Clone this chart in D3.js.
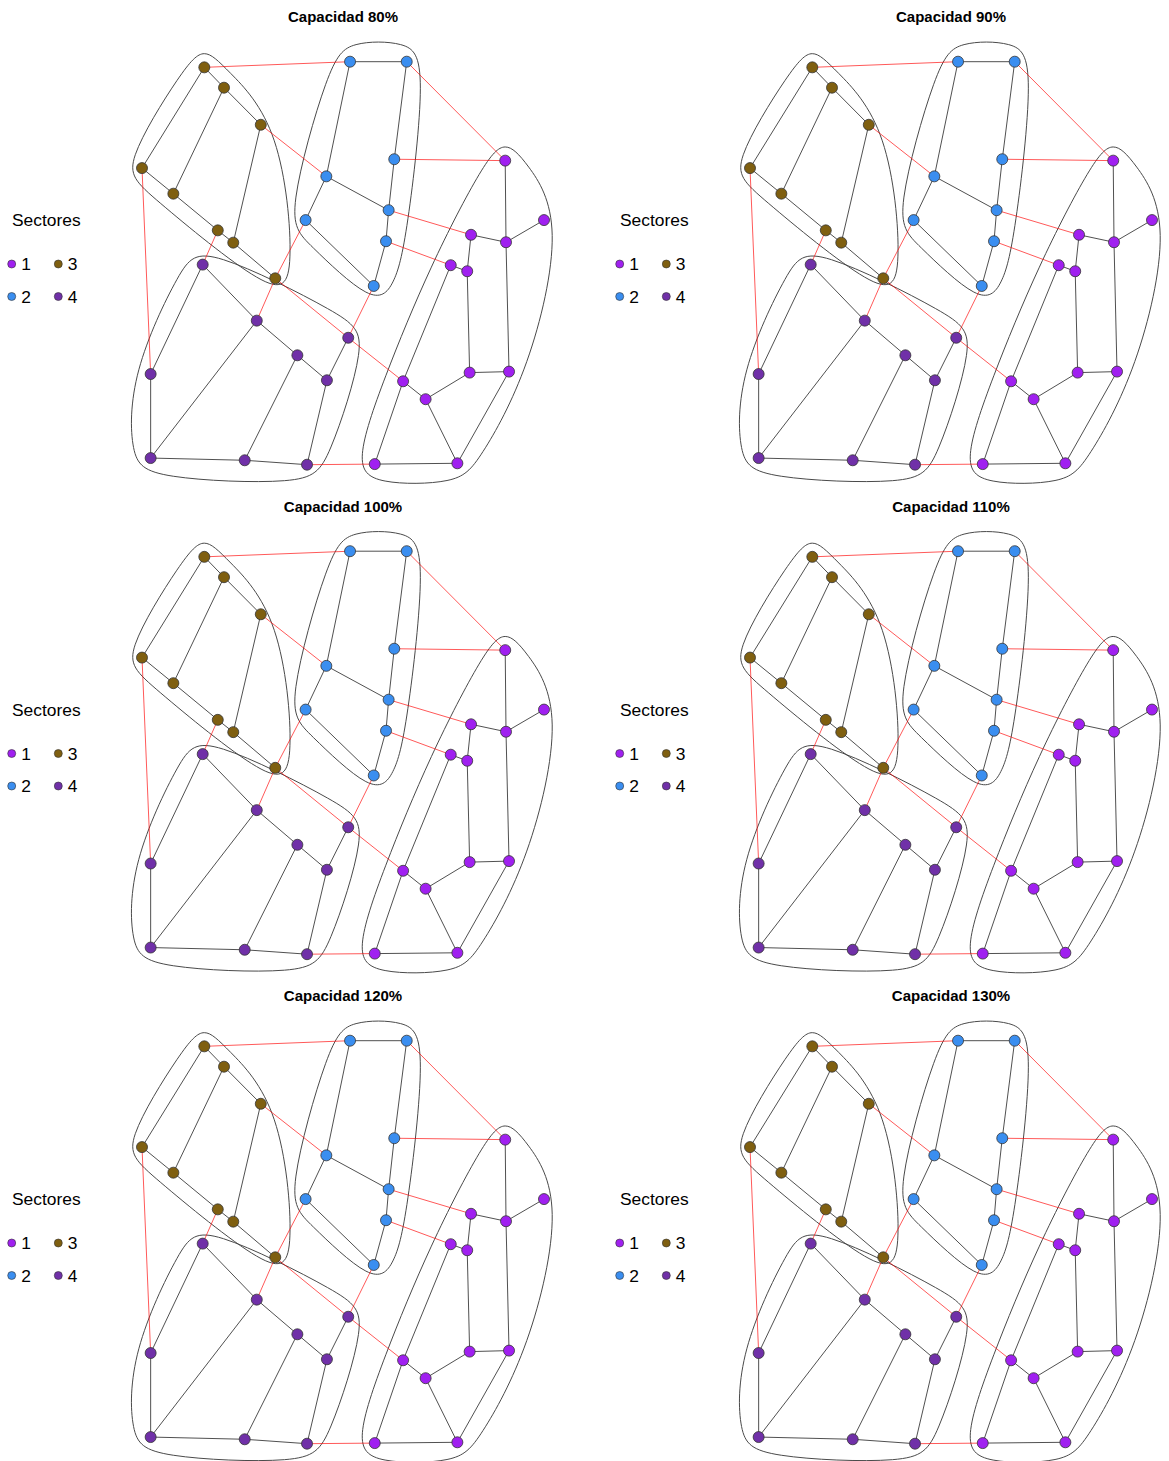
<!DOCTYPE html>
<html>
<head>
<meta charset="utf-8">
<script src="https://cdn.jsdelivr.net/npm/d3@7"></script>
<style>
  body { margin: 0; background: #fff; }
  svg { display: block; font-family: "Liberation Sans", Arial, sans-serif; }
</style>
</head>
<body>
<svg id="chart" width="1169" height="1461"></svg>
<script>
// ---- data ----
const capacities = [80, 90, 100, 110, 120, 130];
const sectorLabels = ['1', '2', '3', '4'];

// node layout (normalised layout units, -1..1) and sector of each node
const nodeNames = ['A','B','C','D','E','F','G','H',
  'I','J','K','L','M','N','O','P',
  'Q','R','S','T','U','V','W','X','Y','Z','AA','AB',
  'a','b','c','d','e','f','g','h','i'];
const nodeX = [-0.690,-0.592,-0.409,-1.000,-0.844,-0.623,-0.546,-0.337,
  0.035,0.317,0.255,-0.083,0.227,-0.186,0.214,0.153,
  0.807,1.000,0.637,0.811,0.536,0.618,0.630,0.826,0.299,0.411,0.158,0.569,
  -0.698,-0.429,0.026,-0.227,-0.080,-0.957,-0.957,-0.489,-0.179];
const nodeY = [0.972,0.871,0.687,0.472,0.345,0.163,0.102,-0.075,
  1.000,1.000,0.516,0.431,0.263,0.214,0.109,-0.113,
  0.509,0.214,0.141,0.104,-0.010,-0.040,-0.543,-0.538,-0.586,-0.675,-0.997,-0.993,
  -0.007,-0.285,-0.370,-0.457,-0.581,-0.550,-0.967,-0.978,-1.000];
const nodeSector = [3,3,3,3,3,3,3,3,
  2,2,2,2,2,2,2,2,
  1,1,1,1,1,1,1,1,1,1,1,1,
  4,4,4,4,4,4,4,4,4];

// edges
const edgeFrom = ['A','B','A','B','D','E','F','G','C',
  'I','I','J','K','L','L','M','O','N',
  'Q','R','S','S','U','U','V','T','W','W','Y','Z','X','Y','AA',
  'a','a','f','g','g','h','h','b','d','e','e',
  'A','C','D','F','b','H','H','c','c','i','J','K','M','O'];
const edgeTo = ['B','C','D','E','E','F','G','H','G',
  'J','L','K','M','M','N','O','P','P',
  'T','T','T','V','V','Y','W','X','X','Z','Z','AB','AB','AA','AB',
  'b','f','g','b','h','i','d','d','e','i','c',
  'I','L','f','a','H','N','c','Y','P','AA','Q','Q','S','U'];

// ---- styles ----
const sectorColor = { 1: '#a020f0', 2: '#3a8ef0', 3: '#7f5f10', 4: '#7030a8' };
const W = 1169, H = 1461;
const colStep = 608, rowStep = 489.5;
const plotLeft = 142, plotRight = 544, plotTop = 61.7, plotBottom = 464.7;
const nodeR = 5.5, hullPad = 20.5;

const svg = d3.select('#chart');
svg.append('rect').attr('width', W).attr('height', H).attr('fill', '#fff');

const nodes = nodeNames.map((n, i) => ({ name: n, x: nodeX[i], y: nodeY[i], sector: nodeSector[i] }));
const byName = new Map(nodes.map(d => [d.name, d]));
const edges = edgeFrom.map((f, i) => ({ source: byName.get(f), target: byName.get(edgeTo[i]) }));

const hullLine = d3.line().curve(d3.curveBasisClosed);

capacities.forEach((cap, k) => {
  const col = k % 2, row = Math.floor(k / 2);
  const ox = col * colStep, oy = row * rowStep;
  const g = svg.append('g').attr('transform', `translate(${ox},${oy})`);

  const x = d3.scaleLinear().domain([-1, 1]).range([plotLeft, plotRight]);
  const y = d3.scaleLinear().domain([-1, 1]).range([plotBottom, plotTop]);

  // title
  g.append('text')
    .attr('x', (plotLeft + plotRight) / 2)
    .attr('y', 22)
    .attr('text-anchor', 'middle')
    .attr('font-size', '15px')
    .attr('font-weight', 'bold')
    .text(`Capacidad ${cap}%`);

  // sector hulls (expanded convex hull, smoothed)
  [1, 2, 3, 4].forEach(s => {
    const pts = [];
    nodes.filter(d => d.sector === s).forEach(d => {
      const px = x(d.x), py = y(d.y);
      pts.push([px - hullPad, py], [px + hullPad, py], [px, py - hullPad], [px, py + hullPad]);
    });
    const hull = d3.polygonHull(pts);
    g.append('path')
      .attr('d', hullLine(hull))
      .attr('fill', 'none')
      .attr('stroke', '#4a4a4a')
      .attr('stroke-width', 1);
  });

  // edges
  g.selectAll('.edge')
    .data(edges)
    .enter()
    .append('line')
    .attr('class', 'edge')
    .attr('x1', d => x(d.source.x))
    .attr('y1', d => y(d.source.y))
    .attr('x2', d => x(d.target.x))
    .attr('y2', d => y(d.target.y))
    .attr('stroke', d => d.source.sector === d.target.sector ? '#3c3c3c' : 'rgba(255,0,0,0.65)')
    .attr('stroke-width', d => d.source.sector === d.target.sector ? 0.9 : 1);

  // nodes
  g.selectAll('.node')
    .data(nodes)
    .enter()
    .append('circle')
    .attr('class', 'node')
    .attr('cx', d => x(d.x))
    .attr('cy', d => y(d.y))
    .attr('r', nodeR)
    .attr('fill', d => sectorColor[d.sector])
    .attr('stroke', '#333')
    .attr('stroke-width', 0.8);

  // legend
  const lg = g.append('g').attr('class', 'legend');
  lg.append('text')
    .attr('x', 46.3)
    .attr('y', 226)
    .attr('text-anchor', 'middle')
    .attr('font-size', '17.4px')
    .text('Sectores');

  const legCol = d3.scaleOrdinal().domain(sectorLabels).range([11.7, 11.7, 58.3, 58.3]);
  const legRow = d3.scaleOrdinal().domain(sectorLabels).range([264, 296.5, 264, 296.5]);
  sectorLabels.forEach(s => {
    lg.append('circle')
      .attr('cx', legCol(s))
      .attr('cy', legRow(s))
      .attr('r', 4)
      .attr('fill', sectorColor[s])
      .attr('stroke', '#333')
      .attr('stroke-width', 0.6);
    lg.append('text')
      .attr('x', legCol(s) + 9.5)
      .attr('y', legRow(s) + 6.2)
      .attr('font-size', '17.4px')
      .text(s);
  });
});
</script>
</body>
</html>
